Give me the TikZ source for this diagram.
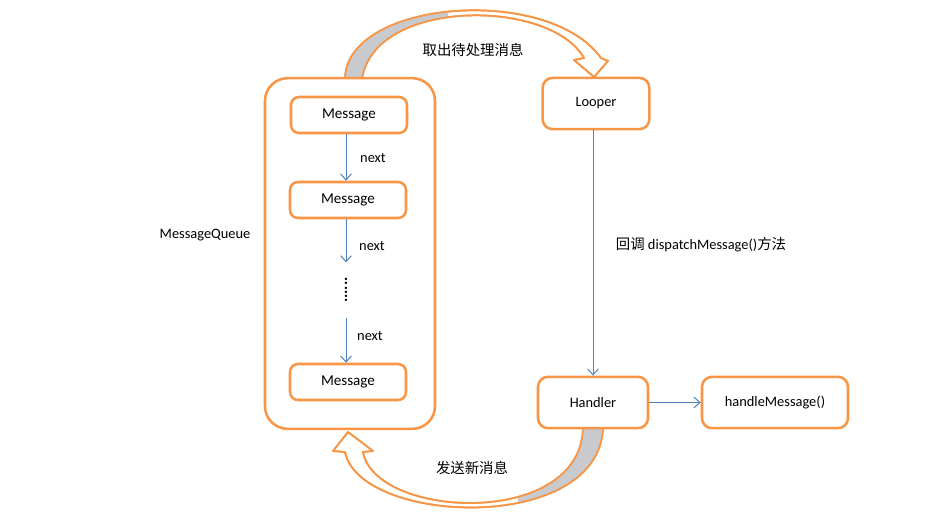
\documentclass[tikz,border=0pt]{standalone}
\usepackage{fontspec}
\setmainfont{Carlito}
\newfontfamily\cjk{Noto Sans CJK SC}
\usetikzlibrary{arrows.meta}
\definecolor{boxorange}{RGB}{247,150,70}
\definecolor{linkblue}{RGB}{79,129,189}
\definecolor{foldgray}{RGB}{200,202,206}

\begin{document}
\begin{tikzpicture}[x=0.75pt,y=0.75pt,yscale=-1,
  every node/.style={font=\fontsize{10.8}{12}\selectfont},
  msgbox/.style={draw=boxorange,line width=1.9pt,rounded corners=6pt,fill=white,
    minimum width=87pt,minimum height=27pt,inner sep=0pt,font=\fontsize{11.3}{13}\selectfont},
  partbox/.style={draw=boxorange,line width=1.9pt,rounded corners=7.5pt,fill=white,
    minimum height=38.5pt,inner sep=0pt},
  queuebox/.style={draw=boxorange,line width=1.9pt,rounded corners=17pt,
    minimum width=127.5pt,minimum height=263pt,inner sep=0pt},
  link/.style={draw=linkblue,line width=0.75pt,-{Straight Barb[length=4.5pt,width=8pt]}},
  band/.style={draw=boxorange,line width=1.3pt,line join=round,fill=white}
]
\useasboundingbox (0,0) rectangle (926,522);

% curved arrow: take message
\draw[band] (345,79) .. controls (346,0) and (548,-16) .. (601,58) -- (608,61) -- (594,77)
  -- (574,60) -- (584,58) .. controls (550,-2) and (374,-2) .. (362,79) -- cycle;
\begin{scope}
\clip (300,0) rectangle (448,100);
\fill[foldgray] (345,79) .. controls (346,0) and (548,-16) .. (601,58)
  -- (584,58) .. controls (550,-2) and (374,-2) .. (362,79) -- cycle;
\end{scope}
\draw[band,fill=none] (345,79) .. controls (346,0) and (548,-16) .. (601,58) -- (608,61) -- (594,77)
  -- (574,60) -- (584,58) .. controls (550,-2) and (374,-2) .. (362,79) -- cycle;

% curved arrow: send message
\draw[band] (345,452) .. controls (360,525) and (600,535) .. (603,427) -- (583,427)
  .. controls (582,529) and (375,519) .. (363,452) -- (373,451) -- (348,432) -- (333,451) -- cycle;
\begin{scope}
\clip (518,400) rectangle (640,522);
\fill[foldgray] (345,452) .. controls (360,525) and (600,535) .. (603,427) -- (583,427)
  .. controls (582,529) and (375,519) .. (363,452) -- cycle;
\end{scope}
\draw[band,fill=none] (345,452) .. controls (360,525) and (600,535) .. (603,427) -- (583,427)
  .. controls (582,529) and (375,519) .. (363,452) -- (373,451) -- (348,432) -- (333,451) -- cycle;

% message queue
\node[queuebox,fill=white] (queue) at (350,253.5) {};
\node (queuelbl) at (205,235) {MessageQueue};
\node[msgbox] (msg1) at (349,115) {Message};
\node[msgbox] (msg2) at (348,200) {Message};
\node[msgbox] (msg3) at (348,382) {Message};
\node[minimum height=41pt,inner sep=0pt,font=\fontsize{12}{12}\selectfont] (dots) at (346,290)
  {\rotatebox{90}{\textbf{......}}};
\draw[link] (msg1.south -| dots) -- (msg2.north -| dots);
\draw[link] (msg2.south -| dots) -- (dots.north);
\draw[link] (dots.south) -- (msg3.north -| dots);
\node (next1) at (373,158) {next};
\node (next2) at (372,246) {next};
\node (next3) at (370,336) {next};

% looper and handler
\node[partbox,minimum width=80pt] (looper) at (596,103.5) {Looper};
\node[partbox,minimum width=82.5pt] (handler) at (593,402.5) {Handler};
\node[partbox,minimum width=109.5pt] (handle) at (775,402.5) {handleMessage()};
\draw[link] (looper.south -| handler.north) -- (handler.north);
\draw[link] (handler.east) -- (handle.west);
\node (dispatch) at (701,245) {{\cjk 回调} dispatchMessage(){\cjk 方法}};

% arrow texts
\node (takelbl) at (473,50) {\cjk 取出待处理消息};
\node (sendlbl) at (472,468) {\cjk 发送新消息};

\end{tikzpicture}
\end{document}
